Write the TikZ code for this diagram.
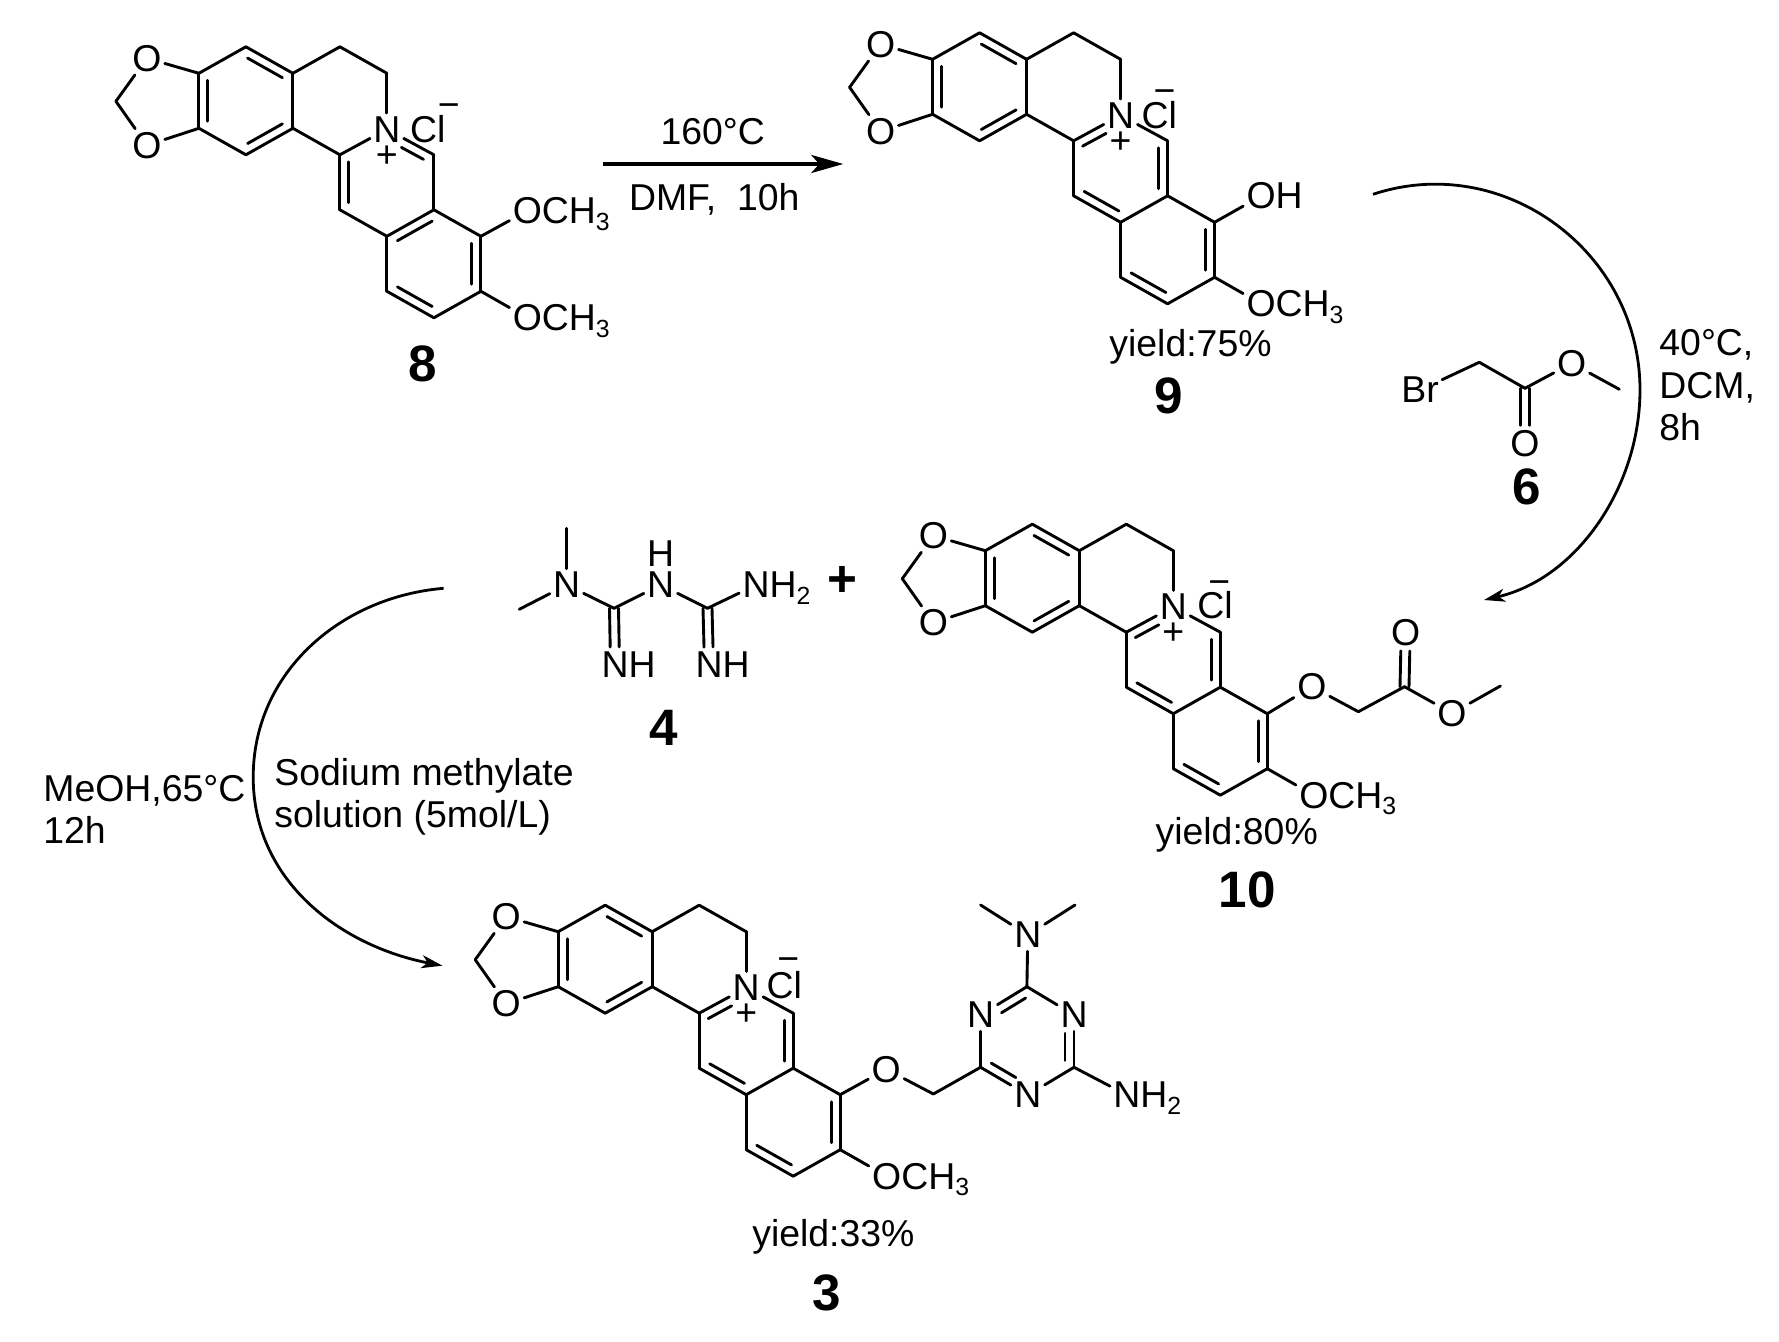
\documentclass[tikz,border=0pt]{standalone}
\usepackage{fontspec}
\setmainfont{Liberation Sans}
\usetikzlibrary{calc, arrows.meta}
\tikzset{
    atom/.style={font=\fontsize{18.7}{21.3}\selectfont, inner sep=1.5pt},
    reagent/.style={atom, align=left, anchor=west},
    caption/.style={atom, anchor=base},
    compound/.style={font=\fontsize{25.6}{30}\selectfont\bfseries, inner sep=0pt, yshift=-.6pt},
    bond/.style={line width=1.45pt, line cap=round},
    curved arrow/.style={line width=1.4pt, -{Stealth[length=10.5pt, width=6.5pt, inset=3pt]}},
    straight arrow/.style={line width=2pt, -{Stealth[length=16pt, width=9pt, inset=4pt]}},
}
\newcommand{\subnum}[1]{\raisebox{-3.4pt}[0pt][0pt]{\fontsize{12.4}{12.4}\selectfont #1}}
% inner line lies to the left of the direction a -> b
\newcommand{\dbond}[3][.13/.13]{
    \draw[bond] (#2) -- (#3);
    \foreach \fa/\fb in {#1}{
        \draw[bond] ($(#2)!\fa!(#3)!4.5pt!90:(#3)$) -- ($(#3)!\fb!(#2)!4.5pt!-90:(#2)$);
    }
}
\newcommand{\sbond}[2]{
    \draw[bond, shorten >=9pt] ($(#1)!2.25pt!90:(#2)$) -- ($(#2)!2.25pt!-90:(#1)$);
    \draw[bond, shorten >=9pt] ($(#1)!2.25pt!-90:(#2)$) -- ($(#2)!2.25pt!90:(#1)$);
}
% #1 prefix, #2 position of vertex a, #3 #4 offset of Cl, #5 #6 position of the minus sign
\newcommand{\coreunit}[6]{
    \begin{scope}[shift={(#2)}]
        \foreach \name/\pos in {a/{0,0}, b/{47,-26.5}, c/{94,0}, d/{94,55}, e/{47,81.5}, f/{0,55},
            g/{141,-26.5}, h/{188,0}, i/{141,81.5}, j/{141,136.5}, k/{188,163}, l/{235,136.5},
            m/{235,81.5}, n/{282,163}, o/{282,218}, p/{235,244.5}, q/{188,218}, ch/{-83,28}}{
            \coordinate (#1\name) at (\pos);
        }
        \node[atom] (#1Oa) at (-52,-15) {O};
        \node[atom] (#1Ob) at (-52,72) {O};
        \node[atom] (#1N) at (188,56) {N};
        \node[atom] (#1plus) at (188,83) {+};
        \node[atom] (#1Cl) at (188+#3,56+#4) {Cl};
        \node[atom] (#1minus) at (188+#5,#6) {−};
        \node[atom] (#1ome) at (328.5,244.5) {O\rlap{CH\subnum{3}}};
    \end{scope}
    \foreach \from/\to in {Oa/a, Oa/ch, Ob/ch, Ob/f, a/b, c/d, e/f, c/g, g/h, h/N, d/i, k/q, p/o, o/ome}{
        \draw[bond] (#1\from) -- (#1\to);
    }
    \dbond{#1a}{#1f}
    \dbond{#1c}{#1b}
    \dbond{#1e}{#1d}
    \dbond{#1o}{#1n}
    \dbond{#1q}{#1p}
}
% the pyridinium ring of 9, 10 and 3
\newcommand{\ringdouble}[1]{
    \dbond[.4/.1]{#1N}{#1i}
    \dbond{#1j}{#1k}
    \dbond{#1l}{#1m}
    \foreach \from/\to in {i/j, k/l, m/N, l/n}{
        \draw[bond] (#1\from) -- (#1\to);
    }
}

\begin{document}
\begin{tikzpicture}[x=0.5pt, y=-0.5pt]
\useasboundingbox (0,0) rectangle (1779,1342);

% compound 8
\coreunit{c8}{198.9,73.3}{41}{0}{62}{37}
\dbond{c8i}{c8j}
\dbond{c8l}{c8k}
\dbond[.13/.4]{c8m}{c8N}
\foreach \from/\to in {i/N, j/k, l/m, l/n}{
    \draw[bond] (c8\from) -- (c8\to);
}
\node[atom] (c8omeb) at (527.4,210.8) {O\rlap{CH\subnum{3}}};
\draw[bond] (c8n) -- (c8omeb);
\node[compound] (label8) at (422.9,363) {8};

% compound 9
\coreunit{c9}{932.6,59.3}{38.6}{0}{44}{37}
\ringdouble{c9}
\node[atom] (c9oh) at (1261.1,196) {O\rlap{H}};
\draw[bond] (c9n) -- (c9oh);
\node[caption] (yield9) at (1190.5,356.5) {yield:75\%};
\node[compound] (label9) at (1169,395) {9};

% compound 6
\node[atom] (brA) at (1420,390) {Br};
\coordinate (chA) at (1479.3,362.3);
\coordinate (coA) at (1525,388.3);
\node[atom] (oxA) at (1525,443.3) {O};
\node[atom] (oxB) at (1571.7,363.3) {O};
\coordinate (meA) at (1619.3,389.3);
\draw[bond] (brA) -- (chA);
\draw[bond] (chA) -- (coA);
\draw[bond] (coA) -- (oxB);
\draw[bond] (oxB) -- (meA);
\sbond{coA}{oxA}
\node[compound] (label6) at (1526.7,486) {6};

% compound 4
\node[atom] (nA) at (566.7,585) {N};
\node[atom] (nB) at (660.7,585) {N};
\node[atom] (hB) at (660.7,553.3) {H};
\node[atom] (nC) at (756,585) {N\rlap{H\subnum{2}}};
\node[atom] (imA) at (615,665) {N\rlap{H}};
\node[atom] (imB) at (709,665) {N\rlap{H}};
\coordinate (cA) at (614,608.3);
\coordinate (cB) at (707.5,608.3);
\coordinate (meB) at (566.7,528.3);
\coordinate (meC) at (519.3,609.3);
\draw[bond] (nA) -- (meB);
\draw[bond] (nA) -- (meC);
\draw[bond] (nA) -- (cA);
\draw[bond] (cA) -- (nB);
\draw[bond] (nB) -- (cB);
\draw[bond] (cB) -- (nC);
\sbond{cA}{imA}
\sbond{cB}{imB}
\node[compound] (label4) at (663.3,726.7) {4};
\node[compound] (plus) at (842.3,580) {+};

% compound 10
\coreunit{c10}{985.3,550.7}{41.6}{-2}{46}{37}
\ringdouble{c10}
\node[atom] (c10oa) at (1311.8,686.7) {O};
\coordinate (c10ch) at (1358.4,711.7);
\coordinate (c10co) at (1404.5,686.7);
\node[atom] (c10ob) at (1405.7,633) {O};
\node[atom] (c10oc) at (1452,713.3) {O};
\coordinate (c10me) at (1500.4,686);
\draw[bond] (c10n) -- (c10oa);
\draw[bond] (c10oa) -- (c10ch);
\draw[bond] (c10ch) -- (c10co);
\draw[bond] (c10co) -- (c10oc);
\draw[bond] (c10oc) -- (c10me);
\sbond{c10co}{c10ob}
\node[caption] (yield10) at (1236.7,844.8) {yield:80\%};
\node[compound] (label10) at (1247.3,888.3) {10};

% compound 3
\coreunit{c3}{558.2,931.7}{38}{-3}{42}{32.5}
\ringdouble{c3}
\node[atom] (c3oa) at (886.2,1069.3) {O};
\coordinate (c3ch) at (933.4,1094);
\coordinate (tCa) at (980.6,1067.3);
\node[atom] (tNa) at (980.6,1015) {N};
\coordinate (tCb) at (1026.9,986.7);
\node[atom] (tNb) at (1074,1015) {N};
\coordinate (tCc) at (1074,1067.3);
\node[atom] (tNc) at (1027.8,1095) {N};
\node[atom] (tNd) at (1027.8,935) {N};
\coordinate (meD) at (980.6,905);
\coordinate (meE) at (1075,905);
\node[atom] (tNe) at (1126.9,1095) {N\rlap{H\subnum{2}}};
\draw[bond] (c3n) -- (c3oa);
\draw[bond] (c3oa) -- (c3ch);
\draw[bond] (c3ch) -- (tCa);
\draw[bond] (tCa) -- (tNa);
\draw[bond] (tCb) -- (tNb);
\draw[bond] (tCc) -- (tNc);
\draw[bond] (tCb) -- (tNd);
\draw[bond] (tNd) -- (meD);
\draw[bond] (tNd) -- (meE);
\draw[bond] (tCc) -- (tNe);
\dbond[.13/.35]{tCb}{tNa}
\dbond[.13/.35]{tCa}{tNc}
\dbond[.13/.35]{tCc}{tNb}
\node[caption] (yield3) at (833.4,1246) {yield:33\%};
\node[compound] (label3) at (827.2,1291.7) {3};

% reaction arrows
\coordinate (arrAs) at (603.3,164);
\coordinate (arrAe) at (843.3,164);
\draw[straight arrow] (arrAs) -- (arrAe);
\node[caption] (tempA) at (712.7,145) {160°C};
\node[caption] (solvA) at (714.3,211) {DMF,\ \ 10h};

\coordinate (arrBs) at (1373,194.3);
\coordinate (arrBm) at (1640,390);
\coordinate (arrBe) at (1484,600);
\draw[curved arrow] (arrBs) .. controls (1504,151) and (1640,252) .. (arrBm)
    .. controls (1640,486) and (1577.5,578.4) .. (arrBe);
\node[reagent] (condB) at (1656,385.5) {40°C,\\DCM,\\8h};

\coordinate (arrCs) at (443.6,588.3);
\coordinate (arrCm) at (253.2,777);
\coordinate (arrCe) at (442.5,965.7);
\draw[curved arrow] (arrCs) .. controls (340,597) and (253.2,673) .. (arrCm)
    .. controls (253.2,881) and (340.6,946) .. (arrCe);
\node[reagent] (condC) at (40,809.5) {MeOH,65°C\\12h};
\node[reagent] (condD) at (271,797) {Sodium methylate\\solution (5mol/L)};

\end{tikzpicture}
\end{document}
